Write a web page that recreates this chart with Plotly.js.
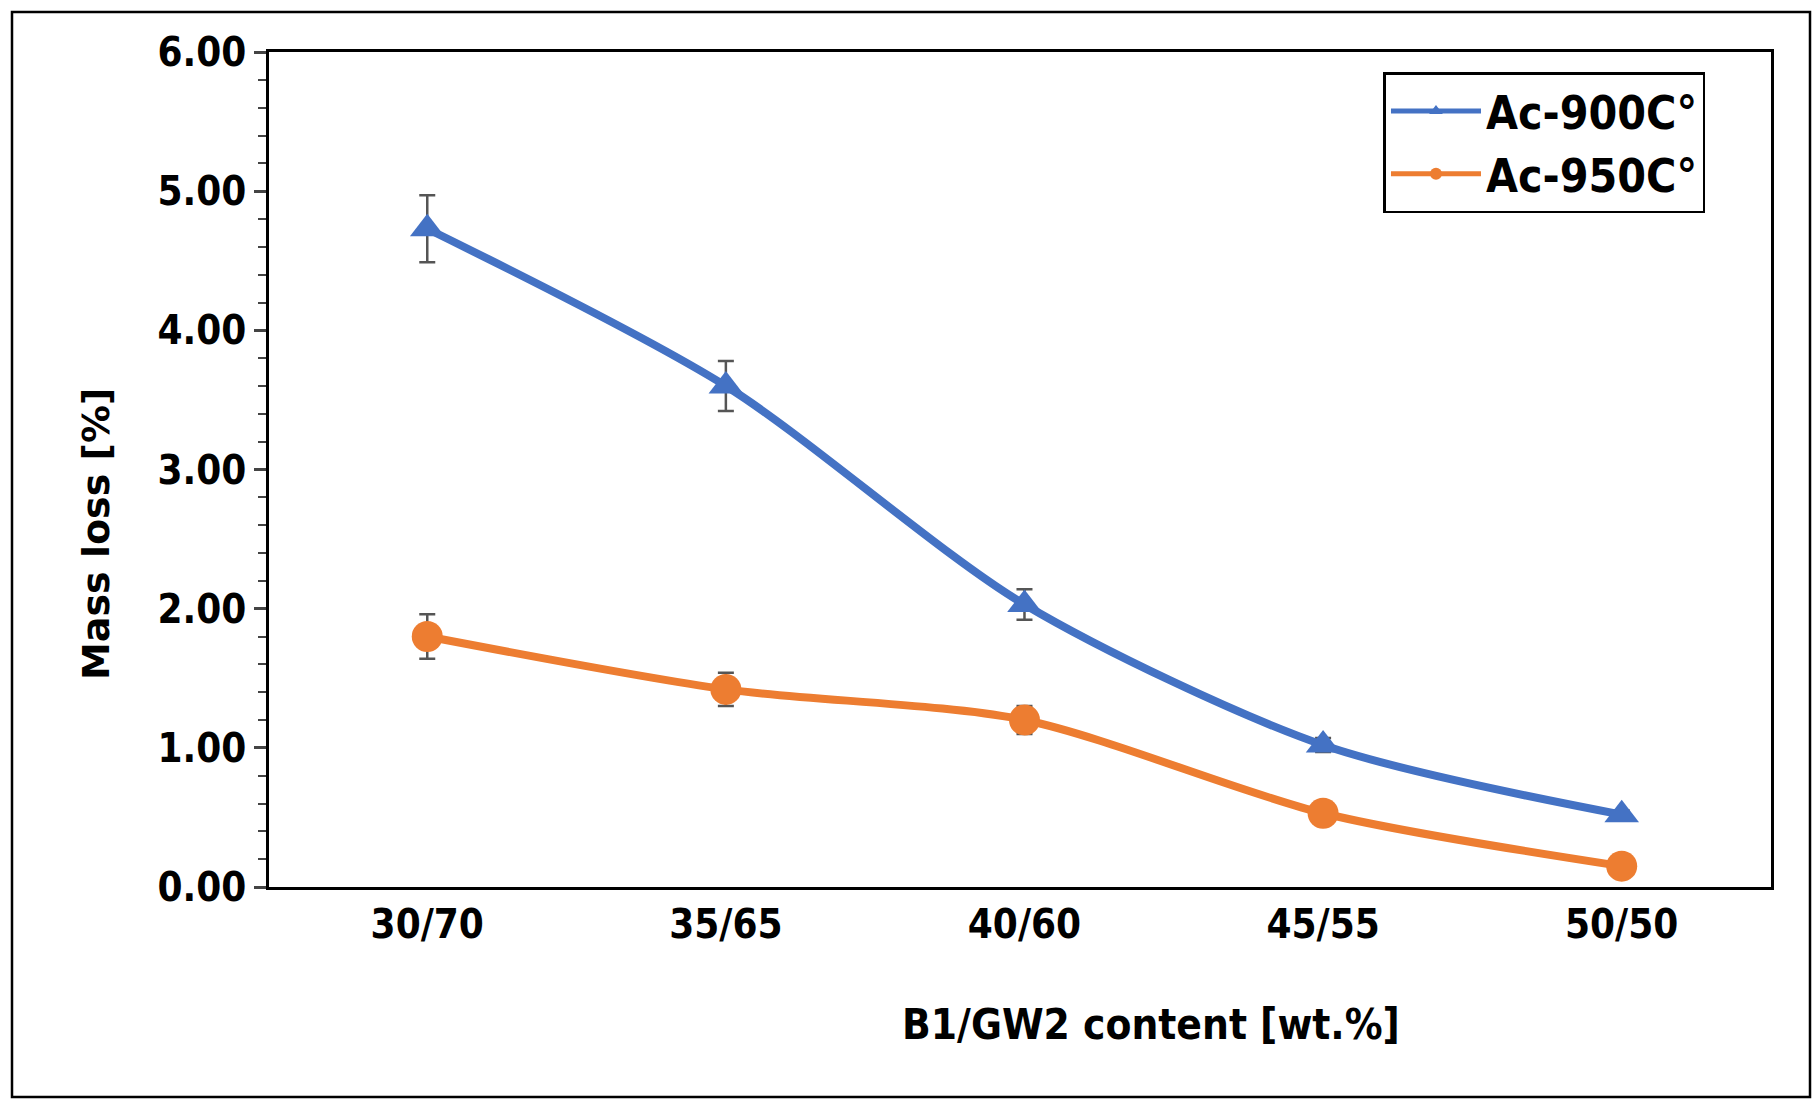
<!DOCTYPE html>
<html>
<head>
<meta charset="utf-8">
<script src="https://cdn.plot.ly/plotly-3.0.1.min.js"></script>
<style>body{margin:0;background:#fff}#chart{width:1819px;height:1109px}</style>
</head>
<body>
<div id="chart"></div>
<script>
var categories = ['30/70', '35/65', '40/60', '45/55', '50/50'];
var ac900 = [4.73, 3.60, 2.03, 1.02, 0.52];
var ac900Err = [0.24, 0.18, 0.11, 0.05, 0.03];
var ac950 = [1.80, 1.42, 1.20, 0.53, 0.15];
var ac950Err = [0.16, 0.12, 0.10, 0.04, 0.02];

var font = 'Liberation Sans Narrow, DejaVu Sans Condensed, Arial';

function series(name, y, err, color, symbol, size) {
  return {
    x: [0, 1, 2, 3, 4], y: y, name: name, type: 'scatter', mode: 'lines+markers',
    line: {color: color, width: 8, shape: 'spline', smoothing: 0.8},
    marker: {color: color, symbol: symbol, size: size},
    error_y: {type: 'data', array: err, visible: true, color: '#555', thickness: 2.5, width: 8}
  };
}

var data = [
  series('Ac-900C°', ac900, ac900Err, '#4472C4', 'triangle-up', 30),
  series('Ac-950C°', ac950, ac950Err, '#ED7D31', 'circle', 31)
];

var layout = {
  width: 1819, height: 1109,
  margin: {l: 269, r: 48, t: 52, b: 222},
  paper_bgcolor: '#fff', plot_bgcolor: '#fff',
  font: {family: font, color: '#000'},
  showlegend: true,
  legend: {x: 0.742, y: 0.976, xanchor: 'left', yanchor: 'top', bordercolor: '#000', borderwidth: 2.5,
           font: {size: 46, family: font, weight: 'bold'}, itemwidth: 90, itemsizing: 'constant'},
  xaxis: {range: [-0.53, 4.5], tickvals: [0, 1, 2, 3, 4], ticktext: categories, showgrid: false, zeroline: false,
          showline: true, linecolor: '#000', linewidth: 2.5, mirror: true, ticks: '', ticklen: 0,
          tickfont: {size: 40, family: font, weight: 'bold'}, automargin: false},
  yaxis: {range: [0, 6], dtick: 1, tickformat: '.2f', showgrid: false, zeroline: false,
          showline: true, linecolor: '#000', linewidth: 2.5, mirror: true, ticks: 'outside', ticklen: 12, tickwidth: 2.5,
          minor: {dtick: 0.2, ticks: 'outside', ticklen: 8, tickwidth: 2},
          tickfont: {size: 40, family: font, weight: 'bold'}, automargin: false},
  annotations: [
    {text: 'B1/GW2 content [wt.%]', xref: 'paper', yref: 'paper', x: (1151 - 269) / 1502, y: (887 - 1051) / 835,
     showarrow: false, font: {size: 42, family: font, weight: 'bold'}},
    {text: 'Mass loss [%]', xref: 'paper', yref: 'paper', x: (72 - 269) / 1502, y: (887 - 534) / 835,
     showarrow: false, textangle: -90, font: {size: 38, family: 'DejaVu Sans', weight: 'bold'}}
  ],
  shapes: [
    {type: 'rect', xref: 'paper', yref: 'paper', x0: (12 - 269) / 1502, x1: (1810 - 269) / 1502,
     y0: (887 - 1097) / 835, y1: (887 - 12) / 835, line: {color: '#000', width: 2.5}}
  ]
};

Plotly.newPlot('chart', data, layout, {displayModeBar: false});
</script>
</body>
</html>
